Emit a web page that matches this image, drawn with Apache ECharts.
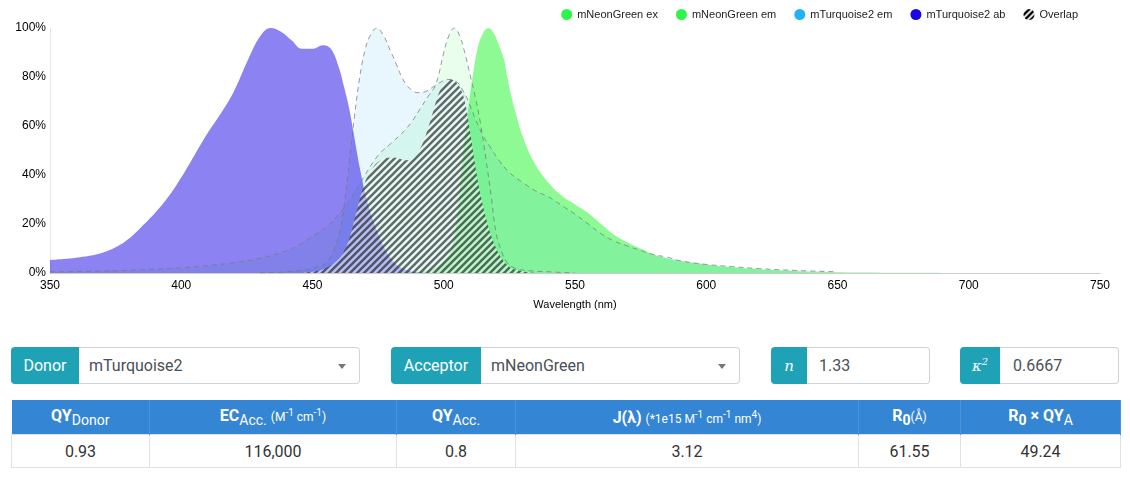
<!DOCTYPE html>
<html>
<head>
<meta charset="utf-8">
<script src="https://cdn.jsdelivr.net/npm/echarts@6/dist/echarts.min.js"></script>
<style>
  body { margin: 0; background: #fff; font-family: Roboto, "Liberation Sans", sans-serif; }
  #chart { position: absolute; left: 0; top: 0; width: 1130px; height: 320px; }
  .grp { position: absolute; top: 347px; height: 37px; display: flex; }
  .lbl { background: #1fa2b6; color: #fff; border-radius: 4px 0 0 4px; display: flex;
         align-items: center; justify-content: center; font-size: 16px; }
  .sel { flex: 1; border: 1px solid #ced4da; border-left: none; border-radius: 0 4px 4px 0;
         background: #fff; color: #495057; display: flex; align-items: center;
         padding-left: 10px; position: relative; font-size: 16px; }
  .caret { position: absolute; right: 13px; top: 16px; width: 0; height: 0;
           border-left: 4px solid transparent; border-right: 4px solid transparent;
           border-top: 5px solid #777; }
  .math { font-family: "DejaVu Serif", serif; font-style: italic; font-size: 15px; }
  table { position: absolute; left: 11px; top: 400px; width: 1109px; border-collapse: collapse;
          table-layout: fixed; }
  th { background: #3585d5; color: #fff; font-weight: 700; font-size: 16px; height: 34px;
       padding: 0; border-right: 1px solid #4d93da; }
  th sub { font-weight: 400; font-size: 14px; }
  th small { font-weight: 400; font-size: 12px; }
  th .b0 { font-weight: 700; }
  td { height: 32px; border: 1px solid #dee2e6; text-align: center; color: #333;
       font-size: 16px; padding: 0; }
</style>
</head>
<body>
<div id="chart"></div>

<div class="grp" style="left:11px;width:349px">
  <span class="lbl" style="width:68px">Donor</span>
  <span class="sel">mTurquoise2<b class="caret"></b></span>
</div>
<div class="grp" style="left:391px;width:349px">
  <span class="lbl" style="width:90px">Acceptor</span>
  <span class="sel">mNeonGreen<b class="caret"></b></span>
</div>
<div class="grp" style="left:771px;width:159px">
  <span class="lbl" style="width:36px"><span class="math">n</span></span>
  <span class="sel" style="padding-left:12px">1.33</span>
</div>
<div class="grp" style="left:960px;width:159px">
  <span class="lbl" style="width:40px"><span class="math">κ<sup style="font-size:10px">2</sup></span></span>
  <span class="sel" style="padding-left:13px">0.6667</span>
</div>

<table>
  <colgroup>
    <col style="width:138px"><col style="width:247px"><col style="width:119px">
    <col style="width:343px"><col style="width:102px"><col style="width:160px">
  </colgroup>
  <tr>
    <th>QY<sub>Donor</sub></th>
    <th>EC<sub>Acc.</sub> <small>(M<sup>-1</sup> cm<sup>-1</sup>)</small></th>
    <th>QY<sub>Acc.</sub></th>
    <th>J(λ) <small>(*1e15 M<sup>-1</sup> cm<sup>-1</sup> nm<sup>4</sup>)</small></th>
    <th>R<sub class="b0">0</sub><small>(Å)</small></th>
    <th>R<sub class="b0">0</sub> × QY<sub>A</sub></th>
  </tr>
  <tr>
    <td>0.93</td><td>116,000</td><td>0.8</td><td>3.12</td><td>61.55</td><td>49.24</td>
  </tr>
</table>

<script>
// spectra (percent of max)
const neonExWl = [350, 360, 370, 380, 390, 400, 410, 420, 430, 440, 445, 450, 455, 460, 465, 470, 475, 480, 485, 488, 491, 494, 497, 500, 502, 504, 506, 508, 510, 512, 514, 516, 518, 520, 522, 524, 527, 532, 540, 550];
const neonExVal = [0.5, 0.6, 0.8, 1.1, 1.5, 2.1, 3, 4.2, 6, 9, 11.5, 15, 18.5, 24, 31, 40, 48, 53, 58, 62, 67, 72, 77, 90, 97, 100, 97, 90, 81, 72, 61, 47, 32, 16, 9, 4.5, 2, 1, 0.5, 0];

const neonEmWl = [480, 490, 495, 498, 501, 503, 505, 507, 509, 511, 513, 515, 517, 519, 521, 523, 524, 526, 528, 530, 534, 539, 545, 550, 555, 560, 565, 570, 575, 580, 590, 600, 610, 625, 650, 680, 700];
const neonEmVal = [0, 0.5, 1.5, 3, 6, 10, 22, 45, 64, 80, 92, 98, 100, 98, 93, 87, 81, 71, 63, 56, 46, 38, 31.5, 28, 24.5, 20, 15.5, 12.5, 10, 7.5, 5, 3.5, 2.3, 1.2, 0.3, 0.1, 0];

const turqEmWl = [430, 440, 445, 450, 455, 458, 460, 462, 464, 466, 468, 470, 472, 474.5, 477, 480, 482, 484, 486, 488, 490, 493, 496, 499, 502, 505, 507, 509, 512, 515, 518, 521, 525, 530, 535, 540, 545, 550, 555, 560, 565, 570, 575, 580, 585, 590, 600, 610, 620, 635, 650];
const turqEmVal = [0, 0.5, 1, 2, 4, 9, 15, 27, 45, 64, 80, 91, 97, 100, 97, 90, 85, 80, 76.5, 74.5, 73.6, 74, 76, 78, 79, 78, 75, 71, 63, 56, 51, 46, 41, 37, 33.5, 31, 27.5, 24, 20, 16, 13, 11, 9.2, 7.5, 6.5, 5, 3.5, 2.6, 1.8, 1, 0.5];

const turqAbWl = [350, 355, 360, 365, 370, 375, 380, 385, 390, 395, 400, 405, 410, 415, 420, 425, 430, 434, 438, 442, 446, 450, 454, 457, 460, 462, 464, 466, 468, 470, 472, 475, 478, 481, 484, 488, 495];
const turqAbVal = [5.3, 5.7, 6.2, 7, 8.3, 10.5, 14, 19, 24.5, 31, 39, 48, 57, 65, 74, 86, 96.5, 100, 98.5, 95, 91.5, 91.5, 93, 91.5, 84, 76, 67, 55, 43, 33, 25, 16, 9, 4.5, 2, 0.6, 0];

const overlapWl = [445, 450, 454, 458, 461, 464, 467, 470, 473, 476, 479, 482, 485, 488, 490, 492, 494, 496, 498, 500, 502, 504, 506, 508, 510, 512, 514, 516, 518, 520, 522, 525, 528, 532, 536];
const overlapVal = [0, 0.5, 1.5, 4, 7, 14, 26, 37, 43, 46, 47, 47, 46, 46.5, 49, 53, 59, 66, 73, 77, 79, 78.5, 76, 70, 58, 44, 32, 23, 15.5, 10, 6, 2.5, 1.2, 0.3, 0];

const xTicks = { min: 350, max: 750, step: 50 };
const yTicks = { min: 0, max: 100, step: 20 };

function pairs(wl, val) {
  return wl.map(function (w, i) { return [w, val[i]]; });
}

// diagonal hatch used for the overlap area
function stripes(size, lw, dark, light) {
  var c = document.createElement('canvas');
  c.width = size; c.height = size;
  var g = c.getContext('2d');
  g.fillStyle = light;
  g.fillRect(0, 0, size, size);
  g.strokeStyle = dark;
  g.lineWidth = lw;
  g.beginPath();
  for (var k = -1; k <= 1; k++) {
    g.moveTo(k * size - 1, size + 1);
    g.lineTo(k * size + size + 1, -1);
  }
  g.stroke();
  return { image: c, repeat: 'repeat' };
}

var hatch = stripes(7, 2.6, 'rgba(12,22,16,0.62)', 'rgba(255,255,255,0.5)');
var hatchIcon = stripes(6, 2.4, '#000', '#fff');

var dashed = { color: 'rgba(120,120,120,0.75)', width: 1, type: [5, 4] };

var chart = echarts.init(document.getElementById('chart'));
chart.setOption({
  animation: false,
  textStyle: { fontFamily: '"Liberation Sans", Arial, sans-serif' },
  legend: {
    right: 47, top: 4,
    icon: 'circle',
    itemWidth: 11, itemHeight: 11, itemGap: 18,
    textStyle: { fontSize: 11, color: '#222' },
    data: [
      { name: 'mNeonGreen ex', itemStyle: { color: '#2df64b', borderWidth: 0 } },
      { name: 'mNeonGreen em', itemStyle: { color: '#2df64b', borderWidth: 0 } },
      { name: 'mTurquoise2 em', itemStyle: { color: '#1fb2f5', borderWidth: 0 } },
      { name: 'mTurquoise2 ab', itemStyle: { color: '#1a06e6', borderWidth: 0 } },
      { name: 'Overlap', itemStyle: { color: hatchIcon, borderWidth: 0 } }
    ]
  },
  grid: { left: 50, right: 30, top: 28, bottom: 47 },
  xAxis: {
    type: 'value', min: xTicks.min, max: xTicks.max, interval: xTicks.step,
    name: 'Wavelength (nm)', nameLocation: 'middle', nameGap: 26,
    nameTextStyle: { fontSize: 11, color: '#000' },
    axisLine: { show: true, lineStyle: { color: '#cccccc' } },
    axisTick: { show: false },
    splitLine: { show: false },
    axisLabel: { color: '#000', fontSize: 12, margin: 7 }
  },
  yAxis: {
    type: 'value', min: yTicks.min, max: yTicks.max, interval: yTicks.step,
    axisLine: { show: true, lineStyle: { color: '#e6e6e6' } },
    axisTick: { show: false },
    splitLine: { show: false },
    axisLabel: { color: '#000', fontSize: 12, margin: 4, formatter: '{value}%' }
  },
  series: [
    {
      name: 'mNeonGreen ex', type: 'line', smooth: 0.4, showSymbol: false,
      data: pairs(neonExWl, neonExVal),
      itemStyle: { color: '#2df64b' },
      lineStyle: dashed,
      areaStyle: { color: '#2df64b', opacity: 0.1 }
    },
    {
      name: 'mNeonGreen em', type: 'line', smooth: 0.4, showSymbol: false,
      data: pairs(neonEmWl, neonEmVal),
      itemStyle: { color: '#1ef52a' },
      lineStyle: { width: 0 },
      areaStyle: { color: '#1ef52a', opacity: 0.5 }
    },
    {
      name: 'mTurquoise2 em', type: 'line', smooth: 0.4, showSymbol: false,
      data: pairs(turqEmWl, turqEmVal),
      itemStyle: { color: '#1fb2f5' },
      lineStyle: dashed,
      areaStyle: { color: '#1fb2f5', opacity: 0.1 }
    },
    {
      name: 'mTurquoise2 ab', type: 'line', smooth: 0.4, showSymbol: false,
      data: pairs(turqAbWl, turqAbVal),
      itemStyle: { color: '#1a06e6' },
      lineStyle: { width: 0 },
      areaStyle: { color: '#1a06e6', opacity: 0.5 }
    },
    {
      name: 'Overlap', type: 'line', smooth: 0.4, showSymbol: false,
      data: pairs(overlapWl, overlapVal),
      itemStyle: { color: hatchIcon },
      lineStyle: { width: 0 },
      areaStyle: { color: hatch, opacity: 1 }
    }
  ]
});
</script>
</body>
</html>
